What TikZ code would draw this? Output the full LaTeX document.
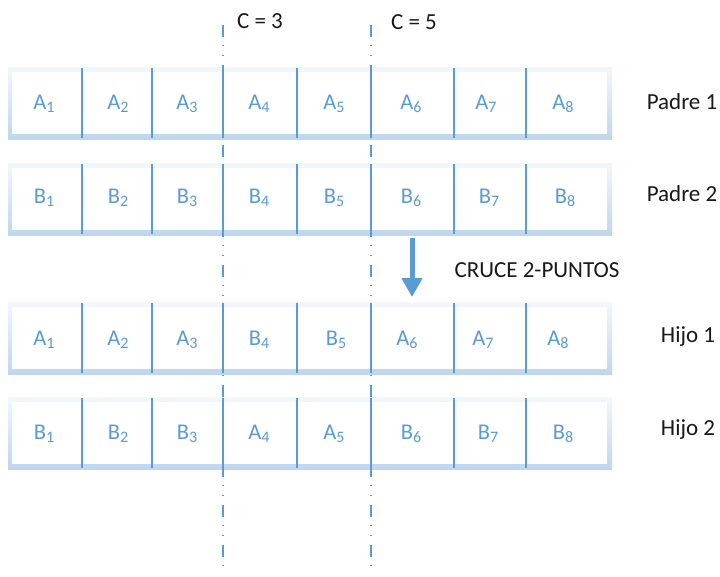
\documentclass[tikz,border=0pt]{standalone}
\usepackage{fontspec}
\setmainfont{Carlito}
\usetikzlibrary{arrows.meta}
\definecolor{cblue}{HTML}{5B9BD5}
\definecolor{frtop}{RGB}{243,247,252}
\definecolor{frbot}{RGB}{190,214,238}
\newcommand{\gene}[2]{#1\raisebox{-3pt}{\fontsize{16}{16}\selectfont #2}}
\tikzset{
  frame/.style={top color=frtop,bottom color=frbot},
  divider/.style={draw=cblue,line width=2.5pt},
  cutline/.style={draw=cblue,line width=1.4pt,dash pattern=on 12pt off 8pt on 1.2pt off 9pt on 1.2pt off 8.6pt},
  genetxt/.style={anchor=base,inner sep=0pt,text=cblue,font=\fontsize{22.5}{22.5}\selectfont},
  lbl/.style={anchor=base,inner sep=0pt,text=black!90,font=\fontsize{23}{23}\selectfont},
  bigarrow/.style={draw=cblue,line width=5pt,-{Triangle[width=20pt,length=19pt]}}
}
\begin{document}
\begin{tikzpicture}[x=1pt,y=-1pt]
\useasboundingbox[fill=white] (0,0) rectangle (720,576);
% rows
\foreach \t/\r in {67/a,163/b,302/c,397/d}{
  \fill[frame] (8,\t) rectangle (612,\t+72);
  \fill[white] (12,\t+5) rectangle (607,\t+67);
  \foreach \x in {82,152,223,297,371,454,526}{
    \draw[divider] (\x,\t+1) -- (\x,\t+71);
  }
}
% cut lines
\coordinate (c3top) at (223,25);
\coordinate (c3bot) at (223,572);
\coordinate (c5top) at (371,25);
\coordinate (c5bot) at (371,572);
\draw[cutline] (c3top) -- (c3bot);
\draw[cutline] (c5top) -- (c5bot);
\node[lbl] (lc3) at (260,28) {C = 3};
\node[lbl] (lc5) at (414,29) {C = 5};
% row 1
\node[genetxt] (a1) at (44,109) {\gene{A}{1}};
\node[genetxt] (a2) at (118,109) {\gene{A}{2}};
\node[genetxt] (a3) at (187,109) {\gene{A}{3}};
\node[genetxt] (a4) at (259,109) {\gene{A}{4}};
\node[genetxt] (a5) at (334,109) {\gene{A}{5}};
\node[genetxt] (a6) at (411,109) {\gene{A}{6}};
\node[genetxt] (a7) at (486,109) {\gene{A}{7}};
\node[genetxt] (a8) at (563,109) {\gene{A}{8}};
\node[lbl] (p1) at (682,109) {Padre 1};
% row 2
\node[genetxt] (b1) at (44,203) {\gene{B}{1}};
\node[genetxt] (b2) at (118,203) {\gene{B}{2}};
\node[genetxt] (b3) at (187,203) {\gene{B}{3}};
\node[genetxt] (b4) at (259,203) {\gene{B}{4}};
\node[genetxt] (b5) at (334,203) {\gene{B}{5}};
\node[genetxt] (b6) at (411,203) {\gene{B}{6}};
\node[genetxt] (b7) at (489,203) {\gene{B}{7}};
\node[genetxt] (b8) at (565,203) {\gene{B}{8}};
\node[lbl] (p2) at (682,201) {Padre 2};
% arrow
\coordinate (arrs) at (412,238);
\coordinate (arre) at (412,297);
\draw[bigarrow] (arrs) -- (arre);
\node[lbl] (cruce) at (537,277) {CRUCE 2-PUNTOS};
% row 3
\node[genetxt] (h1a) at (44,345) {\gene{A}{1}};
\node[genetxt] (h1b) at (118,345) {\gene{A}{2}};
\node[genetxt] (h1c) at (187,345) {\gene{A}{3}};
\node[genetxt] (h1d) at (259,345) {\gene{B}{4}};
\node[genetxt] (h1e) at (336,345) {\gene{B}{5}};
\node[genetxt] (h1f) at (407,345) {\gene{A}{6}};
\node[genetxt] (h1g) at (483,345) {\gene{A}{7}};
\node[genetxt] (h1h) at (558,345) {\gene{A}{8}};
\node[lbl] (hj1) at (688,342) {Hijo 1};
% row 4
\node[genetxt] (h2a) at (44,439) {\gene{B}{1}};
\node[genetxt] (h2b) at (118,439) {\gene{B}{2}};
\node[genetxt] (h2c) at (187,439) {\gene{B}{3}};
\node[genetxt] (h2d) at (259,439) {\gene{A}{4}};
\node[genetxt] (h2e) at (334,439) {\gene{A}{5}};
\node[genetxt] (h2f) at (411,439) {\gene{B}{6}};
\node[genetxt] (h2g) at (488,439) {\gene{B}{7}};
\node[genetxt] (h2h) at (563,439) {\gene{B}{8}};
\node[lbl] (hj2) at (688,435) {Hijo 2};
\end{tikzpicture}
\end{document}
